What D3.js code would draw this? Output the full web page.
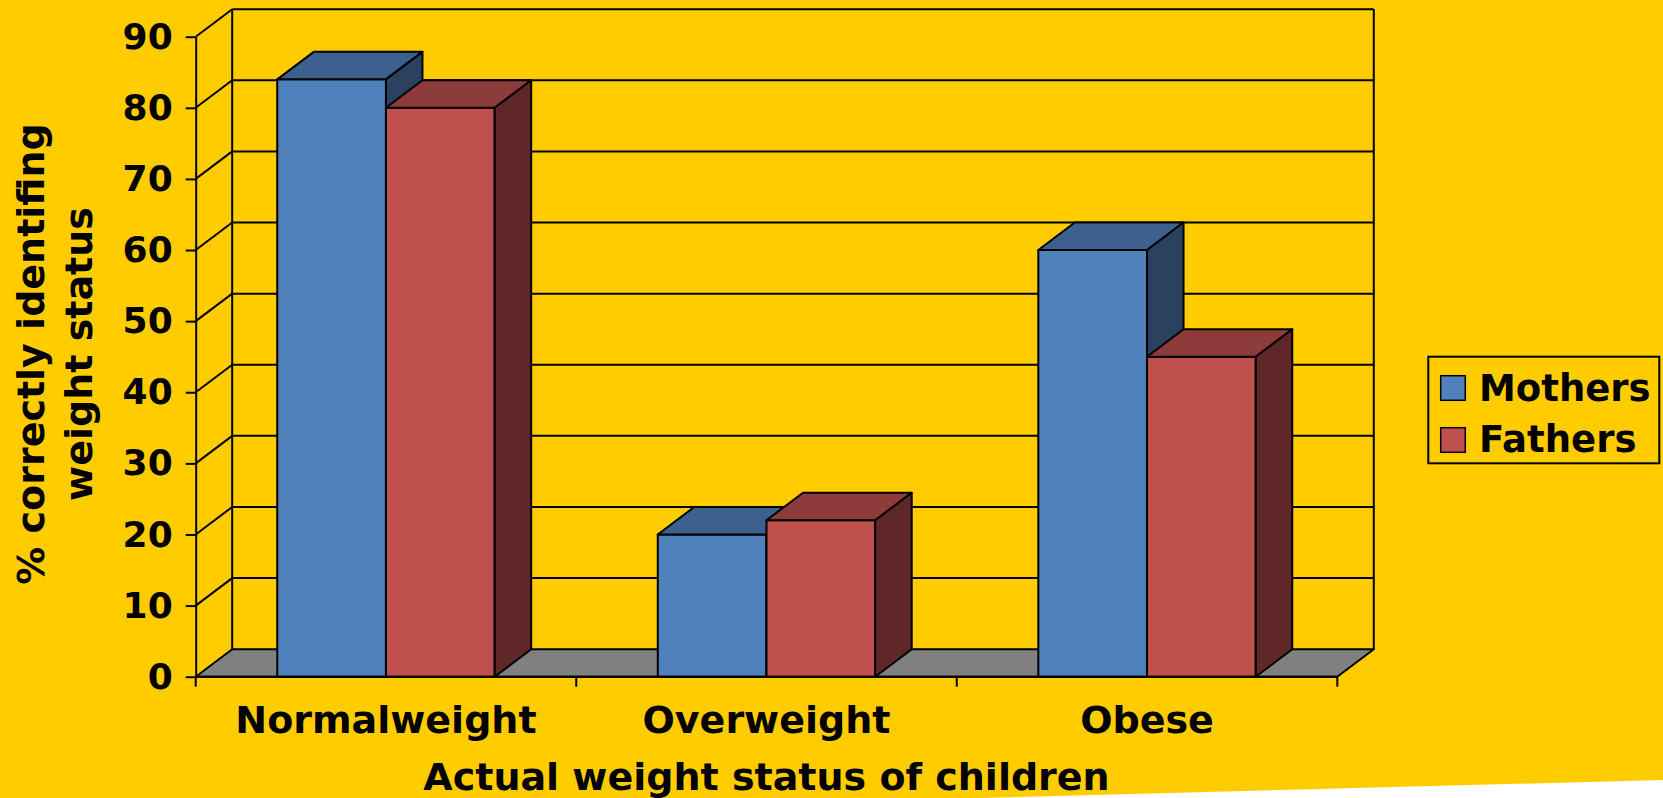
<!DOCTYPE html>
<html>
<head>
<meta charset="utf-8">
<script src="https://cdn.jsdelivr.net/npm/d3@7"></script>
<style>
  html, body { margin: 0; padding: 0; background: #FFCC00; }
  svg { display: block; }
  text { font-family: "DejaVu Sans", Verdana, sans-serif; font-weight: bold; fill: #000; }
</style>
</head>
<body>
<svg id="chart" width="1663" height="798"></svg>
<script>
// Chart data
const categories = ["Normalweight", "Overweight", "Obese"];
const seriesNames = ["Mothers", "Fathers"];
const mothers = [84, 20, 60];
const fathers = [80, 22, 45];
const yTicks = [0, 10, 20, 30, 40, 50, 60, 70, 80, 90];
const yTitleLines = ["% correctly identifing", "weight status"];
const xTitle = "Actual weight status of children";

const W = 1663, H = 798;
const svg = d3.select("#chart");

// Plot frame (front plane) and 3D depth offset
const plotLeft = 195.7, plotRight = 1337.3, plotBottom = 676.7, plotTop = 36.7;
const depthX = 36.5, depthY = -27.5;

const colors = {
  Mothers: { front: "#4F81BD", top: "#3D618E", side: "#2A415F" },
  Fathers: { front: "#C0504D", top: "#8E3B3B", side: "#5F2728" }
};

const x = d3.scaleBand().domain(categories).range([plotLeft, plotRight]).padding(0);
const xInner = d3.scaleBand().domain(seriesNames).range([0, x.bandwidth()])
  .paddingInner(0).paddingOuter(0.75);
const y = d3.scaleLinear().domain([0, 90]).range([plotBottom, plotTop]);

const stroke = "#000";
const lw = 2;
const pts = arr => arr.map(p => p.join(",")).join(" ");

// Background
svg.append("rect").attr("width", W).attr("height", H).attr("fill", "#FFCC00");
// Paper edge in the lower right corner
svg.append("polygon")
  .attr("points", pts([[980, 798], [1663, 780], [1663, 798]]))
  .attr("fill", "#fff");

const walls = svg.append("g");

// Back wall gridlines
walls.selectAll("line.grid").data(yTicks.filter(d => d > 0)).join("line")
  .attr("class", "grid")
  .attr("x1", plotLeft + depthX).attr("x2", plotRight + depthX)
  .attr("y1", d => y(d) + depthY).attr("y2", d => y(d) + depthY)
  .attr("stroke", stroke).attr("stroke-width", lw);

// Side wall diagonals
walls.selectAll("line.diag").data(yTicks.filter(d => d > 0)).join("line")
  .attr("class", "diag")
  .attr("x1", plotLeft).attr("x2", plotLeft + depthX)
  .attr("y1", d => y(d)).attr("y2", d => y(d) + depthY)
  .attr("stroke", stroke).attr("stroke-width", lw);

// Back wall verticals
[plotLeft + depthX, plotRight + depthX].forEach(xx => {
  walls.append("line")
    .attr("x1", xx).attr("x2", xx)
    .attr("y1", y(0) + depthY).attr("y2", y(90) + depthY)
    .attr("stroke", stroke).attr("stroke-width", lw);
});

// Floor
walls.append("polygon")
  .attr("points", pts([[plotLeft, y(0)], [plotRight, y(0)],
    [plotRight + depthX, y(0) + depthY], [plotLeft + depthX, y(0) + depthY]]))
  .attr("fill", "#808080").attr("stroke", stroke).attr("stroke-width", lw)
  .attr("stroke-linejoin", "round");

// Bars
const rows = [];
categories.forEach((c, i) => {
  rows.push({ cat: c, series: "Mothers", value: mothers[i] });
  rows.push({ cat: c, series: "Fathers", value: fathers[i] });
});

const bars = svg.append("g");
rows.forEach(r => {
  const x0 = x(r.cat) + xInner(r.series);
  const x1 = x0 + xInner.bandwidth();
  const y0 = y(0), y1 = y(r.value);
  const col = colors[r.series];
  const g = bars.append("g").attr("stroke", stroke).attr("stroke-width", lw).attr("stroke-linejoin", "round");
  g.append("polygon")
    .attr("points", pts([[x0, y0], [x1, y0], [x1, y1], [x0, y1]]))
    .attr("fill", col.front);
  g.append("polygon")
    .attr("points", pts([[x0, y1], [x1, y1], [x1 + depthX, y1 + depthY], [x0 + depthX, y1 + depthY]]))
    .attr("fill", col.top);
  g.append("polygon")
    .attr("points", pts([[x1, y0], [x1 + depthX, y0 + depthY], [x1 + depthX, y1 + depthY], [x1, y1]]))
    .attr("fill", col.side);
});

// Value axis
const yAxis = svg.append("g")
  .attr("transform", `translate(${plotLeft},0)`)
  .call(d3.axisLeft(y).tickValues(yTicks).tickSize(10).tickPadding(13).tickSizeOuter(0));
yAxis.select(".domain").attr("stroke", stroke).attr("stroke-width", lw);
yAxis.selectAll(".tick line").attr("stroke", stroke).attr("stroke-width", lw);
yAxis.selectAll(".tick text")
  .style("font-family", '"DejaVu Sans", Verdana, sans-serif')
  .style("font-weight", "bold").style("font-size", "36px").attr("fill", "#000");

// Category axis line, boundary ticks and labels
svg.append("line")
  .attr("x1", plotLeft).attr("x2", plotRight).attr("y1", y(0)).attr("y2", y(0))
  .attr("stroke", stroke).attr("stroke-width", lw);
const bounds = categories.map(c => x(c)).concat([x(categories[categories.length - 1]) + x.bandwidth()]);
svg.selectAll("line.xtick").data(bounds).join("line")
  .attr("class", "xtick")
  .attr("x1", d => d).attr("x2", d => d)
  .attr("y1", y(0)).attr("y2", y(0) + 10)
  .attr("stroke", stroke).attr("stroke-width", lw);
svg.selectAll("text.xlab").data(categories).join("text")
  .attr("class", "xlab")
  .attr("x", d => x(d) + x.bandwidth() / 2)
  .attr("y", 733)
  .attr("text-anchor", "middle")
  .style("font-size", "38px")
  .text(d => d);

// Axis titles
svg.append("text")
  .attr("x", (plotLeft + plotRight) / 2).attr("y", 790)
  .attr("text-anchor", "middle").style("font-size", "38px")
  .text(xTitle);

const yTitle = svg.append("g").attr("transform", "translate(0,354) rotate(-90)");
yTitle.selectAll("text").data(yTitleLines).join("text")
  .attr("x", 0)
  .attr("y", (d, i) => 43.5 + i * 48.5)
  .attr("text-anchor", "middle").style("font-size", "38px")
  .text(d => d);

// Legend
const legend = svg.append("g");
legend.append("rect")
  .attr("x", 1428.3).attr("y", 356.7).attr("width", 231).attr("height", 106.6)
  .attr("fill", "none").attr("stroke", stroke).attr("stroke-width", lw);
seriesNames.forEach((s, i) => {
  const yy = 375.7 + i * 52;
  legend.append("rect")
    .attr("x", 1440.7).attr("y", yy).attr("width", 24.6).attr("height", 24.6)
    .attr("fill", colors[s].front).attr("stroke", stroke).attr("stroke-width", 1.5);
  legend.append("text")
    .attr("x", 1479).attr("y", 400.7 + i * 51.6)
    .style("font-size", "37px")
    .text(s);
});
</script>
</body>
</html>
